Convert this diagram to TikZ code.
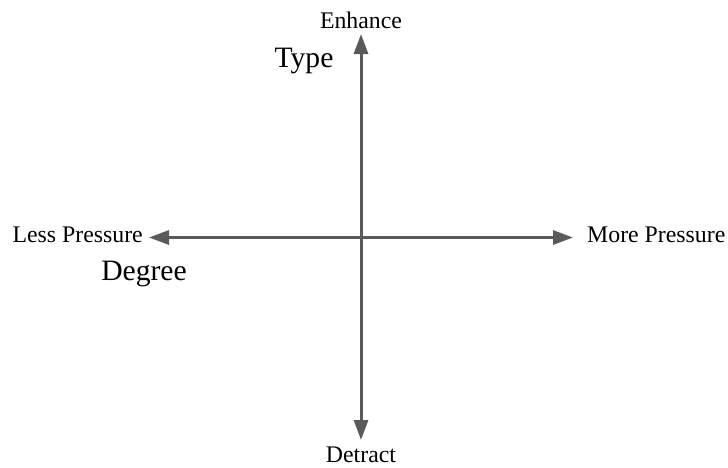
\documentclass[tikz,border=0pt]{standalone}
\usepackage{fontspec}
\setmainfont{Liberation Serif}
\usetikzlibrary{arrows.meta}
\definecolor{axiscolor}{RGB}{90,90,90}

\begin{document}
\begin{tikzpicture}[
  x=1pt, y=-1pt,
  axis/.style={line width=3pt, axiscolor, -{Triangle[length=20pt,width=14pt]}},
  endlabel/.style={font=\fontsize{23.8}{27}\selectfont, inner sep=0pt},
  axistitle/.style={font=\fontsize{29.6}{34}\selectfont, inner sep=0pt},
]
\useasboundingbox (0,0) rectangle (728,467);

% ---------- axis ends ----------
\coordinate (O) at (361,237.5);
\coordinate (top) at (361,34);
\coordinate (bottom) at (361,440);
\coordinate (left) at (149,237.5);
\coordinate (right) at (573,237.5);

% ---------- arrows ----------
\draw[axis] (O) -- (top);
\draw[axis] (O) -- (bottom);
\draw[axis] (O) -- (left);
\draw[axis] (O) -- (right);

% ---------- labels ----------
\node[endlabel] (enhance) at (361,20.5) {Enhance};
\node[endlabel] (detract) at (361,454.5) {Detract};
\node[endlabel, anchor=east] (less) at (143,235) {Less Pressure};
\node[endlabel, anchor=west] (more) at (587,235) {More Pressure};

\node[axistitle] (type) at (304,61) {Type};
\node[axistitle] (degree) at (144,274) {Degree};

\end{tikzpicture}
\end{document}
